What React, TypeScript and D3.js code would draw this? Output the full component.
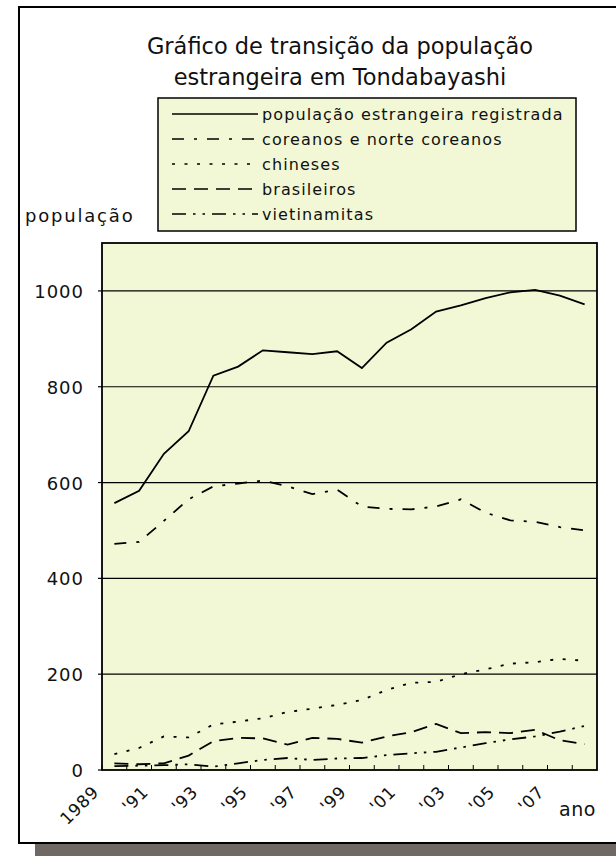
import * as d3 from "d3";

const years = [1989, 1990, 1991, 1992, 1993, 1994, 1995, 1996, 1997, 1998, 1999, 2000, 2001, 2002, 2003, 2004, 2005, 2006, 2007, 2008];

// values
const total = [557, 583, 660, 707, 823, 842, 876, 872, 868, 874, 839, 892, 920, 957, 970, 985, 997, 1002, 990, 972];
const coreanos = [472, 476, 520, 565, 592, 598, 604, 592, 576, 585, 550, 545, 544, 550, 565, 537, 521, 518, 507, 500];
const chineses = [33, 46, 70, 68, 95, 101, 108, 121, 128, 136, 146, 167, 182, 184, 200, 210, 222, 225, 232, 228];
const brasileiros = [14, 12, 14, 30, 60, 67, 66, 53, 67, 65, 57, 70, 79, 96, 77, 79, 77, 84, 62, 54];
const vietnamitas = [8, 9, 10, 12, 7, 14, 21, 25, 21, 24, 25, 31, 35, 38, 47, 56, 64, 70, 80, 92];

const tickYears = [1989, 1991, 1993, 1995, 1997, 1999, 2001, 2003, 2005, 2007];
const tickLabels = ["1989", "'91", "'93", "'95", "'97", "'99", "'01", "'03", "'05", "'07"];
const yTicks = [0, 200, 400, 600, 800, 1000];

const titleLines = ["Gráfico de transição da população", "estrangeira em Tondabayashi"];

const series = [
  { name: "população estrangeira registrada", values: total, dash: "none" },
  { name: "coreanos e norte coreanos", values: coreanos, dash: "12,10,3,10" },
  { name: "chineses", values: chineses, dash: "3,9.5" },
  { name: "brasileiros", values: brasileiros, dash: "14,8" },
  { name: "vietinamitas", values: vietnamitas, dash: "14,7,2.5,7,2.5,7" },
];

const font = "DejaVu Sans, sans-serif";
const bg = "#f2f8d6";

const left = 102;
const right = 597;
const top = 243;
const bottom = 770;

export default function App() {
  const x = d3.scaleBand<number>().domain(years).range([left, right]);
  const bw = x.bandwidth();
  const y = d3.scaleLinear().domain([0, 1100]).range([bottom, top]);

  const line = d3
    .line<number>()
    .x((_, i) => (x(years[i]) as number) + bw / 2)
    .y((d) => y(d));

  const legendX = 158;
  const legendY = 98;

  return (
    <svg width={616} height={856} style={{ position: "absolute", left: 0, top: 0 }} fontFamily={font}>
      {/* shadow + frame */}
      <rect x={35} y={20} width={620} height={840} fill="#706865" />
      <rect x={19} y={7} width={620} height={836} fill="#fff" stroke="#000" strokeWidth={2} />

      {titleLines.map((t, i) => (
        <text key={i} x={340} y={54 + i * 31} textAnchor="middle" fontSize={22.5} fill="#111">
          {t}
        </text>
      ))}

      {/* legend */}
      <rect x={legendX} y={legendY} width={418} height={133} fill={bg} stroke="#000" strokeWidth={1.5} />
      {series.map((s, i) => {
        const ly = legendY + 16 + i * 25;
        return (
          <g key={s.name}>
            <line x1={172} x2={258} y1={ly} y2={ly} stroke="#000" strokeWidth={1.5} strokeDasharray={s.dash} />
            <text x={262} y={ly + 5.5} fontSize={16} letterSpacing={1.1} fill="#111">
              {s.name}
            </text>
          </g>
        );
      })}

      <text x={25} y={222} fontSize={18} letterSpacing={1.8} fill="#111">
        população
      </text>

      {/* plot */}
      <rect x={left} y={top} width={right - left} height={bottom - top} fill={bg} />
      {yTicks.slice(1).map((t) => (
        <line key={t} x1={left} x2={right} y1={y(t)} y2={y(t)} stroke="#000" strokeWidth={1.2} />
      ))}
      {yTicks.map((t) => (
        <g key={t}>
          <line x1={left - 4} x2={left} y1={y(t)} y2={y(t)} stroke="#000" strokeWidth={1.2} />
          <text x={84} y={y(t) + 7} textAnchor="end" fontSize={18} letterSpacing={1} fill="#111">
            {t}
          </text>
        </g>
      ))}
      {years.map((yr) => (
        <line key={yr} x1={x(yr)} x2={x(yr)} y1={bottom} y2={bottom - 5} stroke="#000" strokeWidth={1} />
      ))}
      <rect x={left} y={top} width={right - left} height={bottom - top} fill="none" stroke="#000" strokeWidth={1.8} />

      {series.map((s) => (
        <path
          key={s.name}
          d={line(s.values) as string}
          fill="none"
          stroke="#000"
          strokeWidth={1.8}
          strokeDasharray={s.dash}
        />
      ))}

      {tickYears.map((yr, i) => {
        const tx = x(yr) as number;
        return (
          <text
            key={yr}
            transform={`translate(${tx - 2},${bottom + 23}) rotate(-45)`}
            textAnchor="end"
            fontSize={17}
            letterSpacing={0.8}
            fill="#111"
          >
            {tickLabels[i]}
          </text>
        );
      })}
      <text x={559} y={816} fontSize={19} letterSpacing={0.5} fill="#111">
        ano
      </text>
    </svg>
  );
}
